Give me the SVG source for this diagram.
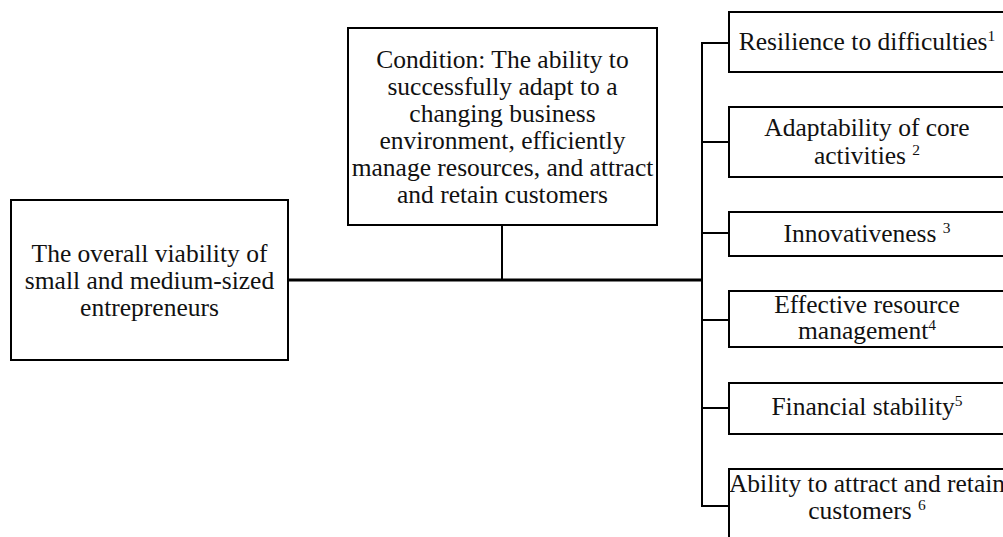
<svg xmlns="http://www.w3.org/2000/svg" width="1003" height="537" viewBox="0 0 1003 537">
<style>
.box{fill:#fff;stroke:#000;stroke-width:2}
text{font-family:'Liberation Serif','Times New Roman','DejaVu Serif',serif;font-size:25.5px;fill:#111;text-anchor:middle}
.sup{font-size:15.5px}
.ln{stroke:#000;stroke-width:2;fill:none}
.main{stroke:#000;stroke-width:3;fill:none}
</style>
<rect width="1003" height="537" fill="#fff"/>
<g id="connectors">
<line class="main" x1="288" y1="280" x2="703" y2="280"/>
<line class="ln" x1="502" y1="225" x2="502" y2="280"/>
<polyline class="ln" points="729,43 702,43 702,506 729,506"/>
<line class="ln" x1="702" y1="142" x2="729" y2="142"/>
<line class="ln" x1="702" y1="233" x2="729" y2="233"/>
<line class="ln" x1="702" y1="320" x2="729" y2="320"/>
<line class="ln" x1="702" y1="408" x2="729" y2="408"/>
</g>
<g id="node-main">
<rect class="box" x="11" y="200" width="277" height="160"/>
<text x="149.5" y="262">The overall viability of</text>
<text x="149.5" y="289">small and medium-sized</text>
<text x="149.5" y="316">entrepreneurs</text>
</g>
<g id="node-condition">
<rect class="box" x="348" y="28" width="309" height="197"/>
<text x="502.5" y="68">Condition: The ability to</text>
<text x="502.5" y="95">successfully adapt to a</text>
<text x="502.5" y="122">changing business</text>
<text x="502.5" y="149">environment, efficiently</text>
<text x="502.5" y="176">manage resources, and attract</text>
<text x="502.5" y="203">and retain customers</text>
</g>
<g id="node-1">
<rect class="box" x="729" y="12" width="278" height="60"/>
<text x="867" y="50">Resilience to difficulties<tspan class="sup" dy="-9">1</tspan></text>
</g>
<g id="node-2">
<rect class="box" x="729" y="107" width="278" height="70"/>
<text x="867" y="136">Adaptability of core</text>
<text x="867" y="164">activities <tspan class="sup" dy="-9">2</tspan></text>
</g>
<g id="node-3">
<rect class="box" x="729" y="212" width="278" height="44"/>
<text x="867" y="242">Innovativeness <tspan class="sup" dy="-9">3</tspan></text>
</g>
<g id="node-4">
<rect class="box" x="729" y="291" width="278" height="56"/>
<text x="867" y="313">Effective resource</text>
<text x="867" y="339">management<tspan class="sup" dy="-9">4</tspan></text>
</g>
<g id="node-5">
<rect class="box" x="729" y="383" width="278" height="51"/>
<text x="867" y="415">Financial stability<tspan class="sup" dy="-9">5</tspan></text>
</g>
<g id="node-6">
<rect class="box" x="729" y="469" width="278" height="80"/>
<text x="867" y="492">Ability to attract and retain</text>
<text x="867" y="519">customers <tspan class="sup" dy="-9">6</tspan></text>
</g>
</svg>
